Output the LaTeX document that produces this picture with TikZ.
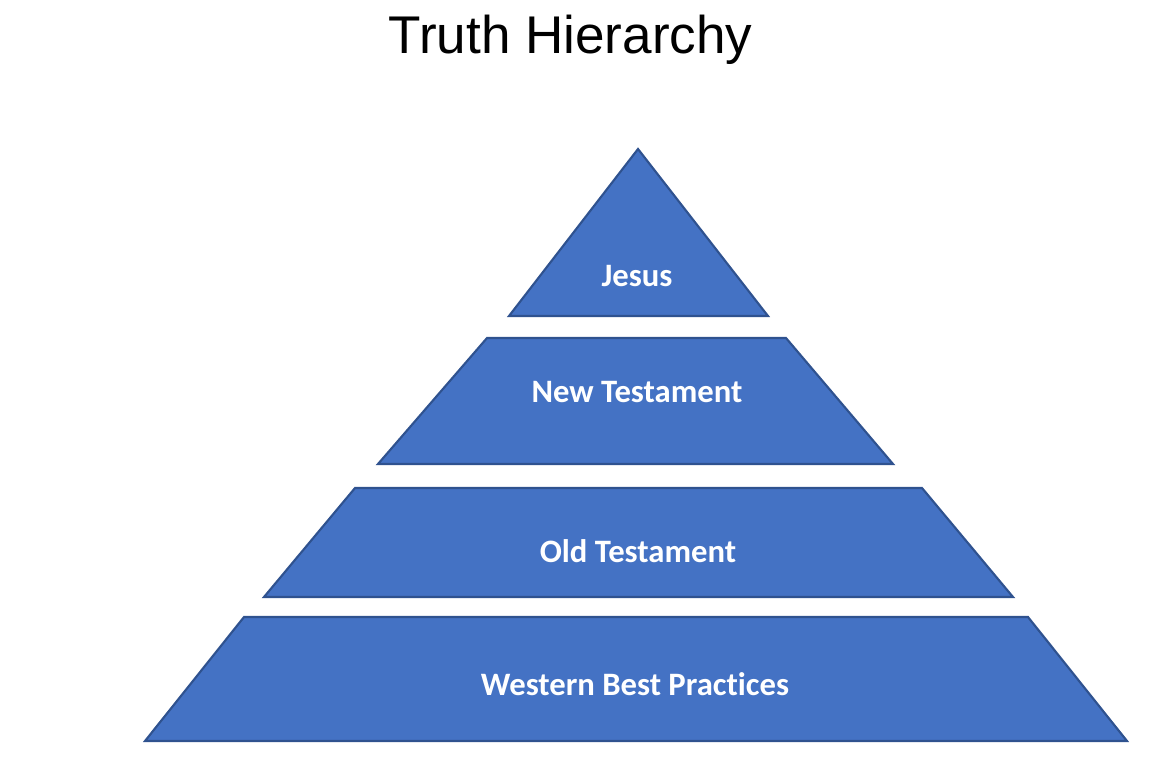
\documentclass[tikz,border=0pt]{standalone}
\usepackage{fontspec}
\setmainfont{Liberation Sans}
\newfontfamily\tierfont{Carlito}[Ligatures=NoCommon]
\usepackage{tikz}

\definecolor{tierblue}{RGB}{68,114,196}
\definecolor{tierline}{RGB}{47,82,143}

\begin{document}
\begin{tikzpicture}[
		tier/.style={fill=tierblue, draw=tierline, line width=0.6pt, line join=miter},
		tierlabel/.style={anchor=base, text=white, inner sep=0pt, font=\tierfont\bfseries\fontsize{9.3}{10}\selectfont}
	]
			\useasboundingbox (0,0) rectangle (11.66,7.78);
			
			\node[anchor=base, inner sep=0pt, font=\fontsize{15.1}{18}\selectfont] (title) at (5.705,7.25) {Truth Hierarchy};
			
			\draw[tier] (6.38,6.29) -- (7.68,4.62) -- (5.09,4.62) -- cycle;
			\draw[tier] (4.87,4.40) -- (7.86,4.40) -- (8.93,3.14) -- (3.78,3.14) -- cycle;
			\draw[tier] (3.55,2.90) -- (9.22,2.90) -- (10.13,1.81) -- (2.64,1.81) -- cycle;
			\draw[tier] (2.44,1.61) -- (10.28,1.61) -- (11.27,0.37) -- (1.45,0.37) -- cycle;
			
			\node[tierlabel] (jesus) at (6.37,4.92) {Jesus};
			\node[tierlabel] (nt) at (6.37,3.76) {New Testament};
			\node[tierlabel] (ot) at (6.38,2.16) {Old Testament};
			\node[tierlabel] (wbp) at (6.35,0.83) {Western Best Practices};
		\end{tikzpicture}
\end{document}
